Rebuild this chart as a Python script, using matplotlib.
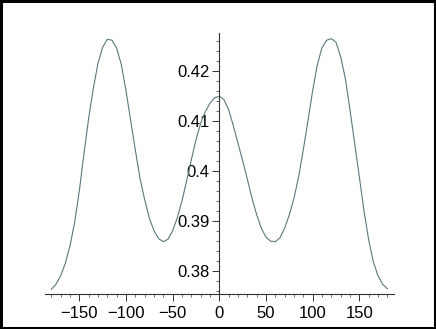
import numpy as np
import matplotlib.pyplot as plt
from matplotlib.ticker import MultipleLocator
from matplotlib.patches import Rectangle

# values, every 5 degrees
angle = list(range(-180, 185, 5))
value = [
    0.3763, 0.3773, 0.3790, 0.3815, 0.3850, 0.3897, 0.3960, 0.4035, 0.4105,
    0.4165, 0.4215, 0.4247, 0.4263, 0.4261, 0.4245, 0.4212, 0.4160, 0.4100,
    0.4041, 0.3985, 0.3942, 0.3905, 0.3880, 0.3864, 0.3858, 0.3863, 0.3880,
    0.3906, 0.3940, 0.3980, 0.4022, 0.4062, 0.4095, 0.4118, 0.4135, 0.4146,
    0.4149,
    0.4142, 0.4122, 0.4090, 0.4055, 0.4020, 0.3983, 0.3945, 0.3912, 0.3885,
    0.3867, 0.3859, 0.3858, 0.3866, 0.3885, 0.3912, 0.3945, 0.3988, 0.4042,
    0.4100, 0.4160, 0.4212, 0.4246, 0.4261, 0.4264, 0.4257, 0.4228, 0.4185,
    0.4122, 0.4055, 0.3988, 0.3920, 0.3862, 0.3818, 0.3790, 0.3773, 0.3764,
]

xticks = [-150, -100, -50, 0, 50, 100, 150]
yticks = [0.38, 0.39, 0.40, 0.41, 0.42]
ytick_labels = ['0.38', '0.39', '0.4', '0.41', '0.42']

plt.rcParams['font.family'] = ['Liberation Sans', 'DejaVu Sans']

fig = plt.figure(figsize=(4.36, 3.29), dpi=100)
ax = fig.add_axes([0.1028, 0.1073, 0.8005, 0.7918])

ax.plot(angle, value, color='#5a787e', lw=0.8)

ax.set_xlim(-187, 187)
ax.set_ylim(0.3754, 0.4275)

ax.spines['top'].set_visible(False)
ax.spines['right'].set_visible(False)
ax.spines['left'].set_position(('data', 0))
for s in ['left', 'bottom']:
    ax.spines[s].set_color('#333333')
    ax.spines[s].set_linewidth(0.8)

ax.set_xticks(xticks)
ax.set_yticks(yticks)
ax.set_yticklabels(ytick_labels)
ax.xaxis.set_minor_locator(MultipleLocator(10))
ax.yaxis.set_minor_locator(MultipleLocator(0.002))
ax.tick_params(which='major', length=5, width=0.7, color='#333333',
               labelsize=12, labelcolor='black')
ax.tick_params(axis='x', which='major', pad=4)
ax.tick_params(axis='y', which='major', pad=2)
ax.tick_params(which='minor', length=2.5, width=0.6, color='#555555')

# black frame round the picture
fig.patches.append(Rectangle((0.003, 0.004), 0.994, 0.992, transform=fig.transFigure,
                             fill=False, edgecolor='black', lw=2.2))

fig.savefig('out.png', dpi=100)
